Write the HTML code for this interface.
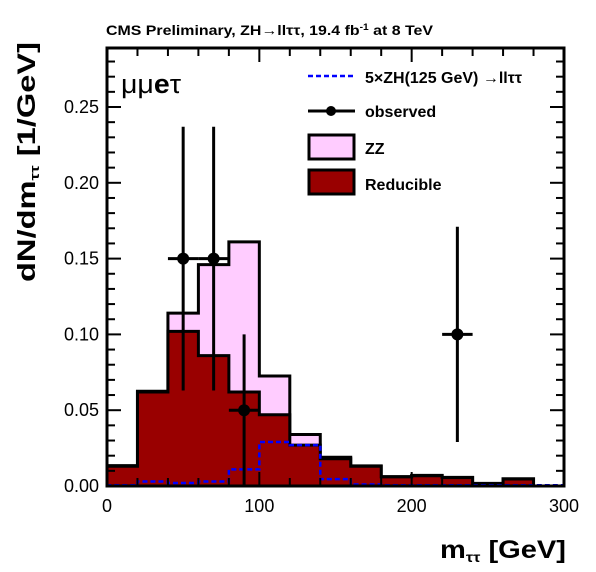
<!DOCTYPE html>
<html><head><meta charset="utf-8"><style>
body{margin:0;background:#fff;}
svg{display:block;font-family:"Liberation Sans",sans-serif;}
</style></head><body>
<svg id="chart" width="596" height="572">
<text x="106" y="35" font-size="14" font-weight="bold" textLength="327" lengthAdjust="spacingAndGlyphs">CMS Preliminary,  ZH→llττ, 19.4 fb<tspan dy="-5" font-size="9">-1</tspan><tspan dy="5"> at 8 TeV</tspan></text>
<g id="plot"></g>
<text x="121" y="93" font-size="27" textLength="60" lengthAdjust="spacingAndGlyphs">μμ<tspan font-weight="bold">e</tspan>τ</text>
<g>
 <g><line x1="308" y1="76" x2="355" y2="76" stroke="#0000ff" stroke-width="2.5" stroke-dasharray="5,3"/><text x="365" y="83" font-size="16" font-weight="bold">5×ZH(125 GeV) →llττ</text></g>
 <g><line x1="308" y1="111" x2="355" y2="111" stroke="#000" stroke-width="3"/><circle cx="331" cy="111" r="5"/><text x="365" y="117" font-size="16" font-weight="bold">observed</text></g>
 <g><rect x="309" y="135" width="45" height="24" fill="#ffccff" stroke="#000" stroke-width="3"/><text x="365" y="154" font-size="16" font-weight="bold">ZZ</text></g>
 <g><rect x="309" y="170" width="45" height="24" fill="#990000" stroke="#000" stroke-width="3"/><text x="365" y="190" font-size="16" font-weight="bold">Reducible</text></g>
</g>
<text x="0" y="0" font-size="25" font-weight="bold" transform="translate(35,162) rotate(-90)" text-anchor="middle" textLength="240" lengthAdjust="spacingAndGlyphs">dN/dm<tspan font-size="13" dy="4">ττ</tspan><tspan dy="-4"> [1/GeV]</tspan></text>
<text x="440" y="558" font-size="25" font-weight="bold" textLength="126" lengthAdjust="spacingAndGlyphs">m<tspan font-size="14" dy="4">ττ</tspan><tspan dy="-4"> [GeV]</tspan></text>
</svg>
<script>
const binEdges=[0,20,40,60,80,100,120,140,160,180,200,220,240,260,280,300];
const reducible=[0.013,0.062,0.102,0.086,0.062,0.047,0.027,0.018,0.013,0.006,0.0068,0.0055,0.0015,0.0046,0];
const zz=[0.0004,0.0005,0.012,0.060,0.099,0.0256,0.007,0.001,0.0003,0.0002,0.0002,0.0002,0.0002,0.0002,0];
const signal=[0.0005,0.003,0.002,0.003,0.011,0.029,0.027,0.0045,0.001,0.0005,0.0005,0.0005,0.0005,0.0005,0.0005];
const obsX=[50,70,90,230];
const obsY=[0.15,0.15,0.05,0.10];
const obsUp=[0.237,0.237,0.10,0.171];
const obsDown=[0.063,0.063,0,0.029];
const xTicks=[0,100,200,300];
const yTicks=[0,0.05,0.10,0.15,0.20,0.25];
const X0=107,X1=564,Y0=486,YT=48;
const sx=v=>X0+(v-0)/(300)*(X1-X0);
const sy=v=>Y0-v*1516;
const NS="http://www.w3.org/2000/svg";
const g=document.getElementById('plot');
function mk(t,a,p){const e=document.createElementNS(NS,t);for(const k in a)e.setAttribute(k,a[k]);(p||g).appendChild(e);return e;}
function stepPath(vals){let d=`M${sx(binEdges[0])},${sy(0)}`;vals.forEach((v,i)=>{d+=` L${sx(binEdges[i])},${sy(v)} L${sx(binEdges[i+1])},${sy(v)}`;});return d+` L${sx(binEdges[binEdges.length-1])},${sy(0)}`;}
const total=reducible.map((v,i)=>v+zz[i]);
const zzP=mk('path',{d:stepPath(total)+'Z',fill:'#ffccff',stroke:'#000','stroke-width':3});


const rP=mk('path',{d:stepPath(reducible)+'Z',fill:'#990000',stroke:'#000','stroke-width':3});


const sP=mk('path',{d:stepPath(signal),fill:'none',stroke:'#0000ff','stroke-width':2.5,'stroke-dasharray':'5,3'});


obsX.forEach((x,i)=>{
 const gg=mk('g',{});
 
 
 mk('line',{x1:sx(x),x2:sx(x),y1:sy(obsUp[i]),y2:sy(obsDown[i]),stroke:'#000','stroke-width':3},gg);
 mk('line',{x1:sx(x-10),x2:sx(x+10),y1:sy(obsY[i]),y2:sy(obsY[i]),stroke:'#000','stroke-width':3},gg);
 mk('circle',{cx:sx(x),cy:sy(obsY[i]),r:6,fill:'#000'},gg);
});
const fr=mk('rect',{x:X0,y:YT,width:X1-X0,height:Y0-YT,fill:'none',stroke:'#000','stroke-width':3});


for(let v=0;v<=300;v+=20){const L=(v%100===0)?14:8;mk('line',{x1:sx(v),x2:sx(v),y1:Y0,y2:Y0-L,stroke:'#000','stroke-width':2});mk('line',{x1:sx(v),x2:sx(v),y1:YT,y2:YT+L,stroke:'#000','stroke-width':2});}
for(let k=0;k<=28;k++){const v=k*0.01;if(sy(v)<YT)break;const L=(k%5===0)?14:8;mk('line',{x1:X0,x2:X0+L,y1:sy(v),y2:sy(v),stroke:'#000','stroke-width':2});mk('line',{x1:X1,x2:X1-L,y1:sy(v),y2:sy(v),stroke:'#000','stroke-width':2});}
xTicks.forEach(v=>{const t=mk('text',{x:sx(v),y:Y0+26,'font-size':18,'text-anchor':'middle'});t.textContent=v;

});
yTicks.forEach(v=>{const t=mk('text',{x:X0-8,y:sy(v)+6,'font-size':18,'text-anchor':'end'});t.textContent=v.toFixed(2);

});
</script>
</body></html>
